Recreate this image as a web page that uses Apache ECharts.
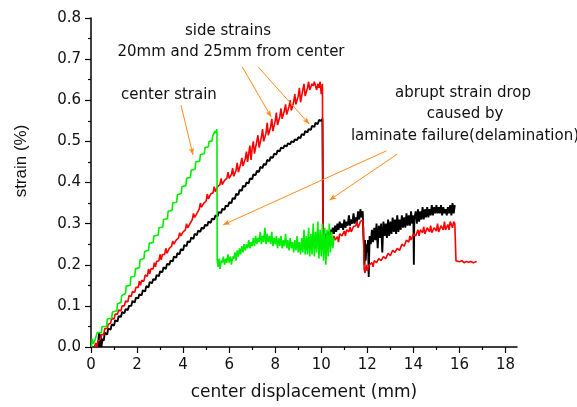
<!DOCTYPE html>
<html>
<head>
<meta charset="utf-8">
<script src="https://cdn.jsdelivr.net/npm/echarts@6/dist/echarts.min.js"></script>
<style>html,body{margin:0;padding:0;background:#fff}#c{width:577px;height:407px}</style>
</head>
<body>
<div id="c"></div>
<script>
// ---- data (x = center displacement in mm, y = strain in %) ----
const greenRise = [[0.02,0],[0.06,0.02],[0.1,0.008],[0.18,0.018],[0.25,0.02],[0.27,0.035],[0.45,0.035],[0.48,0.05],[0.68,0.05],[0.71,0.068],[0.9,0.07],[0.93,0.085],[1.12,0.088],[1.15,0.105],[1.3,0.108],[1.33,0.125],[1.5,0.13],[1.53,0.148],[1.7,0.15],[1.73,0.17],[1.9,0.172],[1.93,0.19],[2.1,0.193],[2.13,0.212],[2.3,0.215],[2.33,0.232],[2.5,0.235],[2.53,0.252],[2.7,0.254],[2.73,0.27],[2.92,0.272],[2.95,0.29],[3.12,0.292],[3.15,0.31],[3.32,0.312],[3.35,0.33],[3.52,0.332],[3.55,0.35],[3.72,0.352],[3.75,0.37],[3.92,0.373],[3.95,0.39],[4.12,0.392],[4.15,0.41],[4.32,0.413],[4.35,0.43],[4.52,0.432],[4.55,0.45],[4.72,0.452],[4.75,0.468],[4.92,0.47],[4.95,0.485],[5.1,0.487],[5.13,0.5],[5.25,0.5],[5.28,0.512],[5.36,0.512],[5.38,0.525],[5.44,0.52],[5.46,0.53],[5.47,0.52]];
const greenAfter = [[5.48,0.21],[5.52,0.195],[5.56,0.215],[5.6,0.19],[5.65,0.21],[5.7,0.205],[5.75,0.22],[5.8,0.2],[5.85,0.215],[5.9,0.205],[5.95,0.225],[6.0,0.205],[6.05,0.22],[6.1,0.2],[6.15,0.22],[6.2,0.215],[6.25,0.23],[6.3,0.21],[6.35,0.235],[6.4,0.22],[6.45,0.24],[6.5,0.225],[6.55,0.245],[6.6,0.23],[6.65,0.25],[6.7,0.235],[6.75,0.25],[6.8,0.24],[6.85,0.26],[6.9,0.24],[6.95,0.255],[7.0,0.245],[7.05,0.265],[7.1,0.245],[7.15,0.27],[7.2,0.25],[7.25,0.265],[7.3,0.255],[7.35,0.28],[7.4,0.25],[7.45,0.27],[7.5,0.255],[7.55,0.29],[7.6,0.25],[7.65,0.275],[7.7,0.255],[7.75,0.27],[7.8,0.25],[7.85,0.28],[7.9,0.245],[7.95,0.265],[8.0,0.25],[8.05,0.27],[8.1,0.24],[8.15,0.265],[8.2,0.245],[8.25,0.27],[8.3,0.24],[8.35,0.26],[8.4,0.245],[8.45,0.275],[8.5,0.24],[8.55,0.26],[8.6,0.235],[8.65,0.265],[8.7,0.24],[8.75,0.255],[8.8,0.23],[8.85,0.26],[8.9,0.235],[8.95,0.27],[9.0,0.23],[9.05,0.255],[9.1,0.225],[9.15,0.265],[9.2,0.23],[9.25,0.285],[9.3,0.225],[9.35,0.27],[9.4,0.225],[9.45,0.29],[9.5,0.22],[9.55,0.275],[9.6,0.225],[9.65,0.3],[9.7,0.22],[9.75,0.28],[9.8,0.23],[9.85,0.305],[9.9,0.215],[9.95,0.285],[10.0,0.22],[10.05,0.3],[10.1,0.21],[10.15,0.29],[10.2,0.2],[10.25,0.285],[10.3,0.22],[10.35,0.3],[10.4,0.23],[10.45,0.28],[10.5,0.24],[10.55,0.265]];
const redRise = [[0.15,0],[0.2,0.01],[0.25,0],[0.3,0.015],[0.4,0.018],[0.45,0.03],[0.55,0.03],[0.6,0.045],[0.7,0.045],[0.75,0.055],[0.85,0.058],[0.9,0.07],[1.0,0.068],[1.05,0.08],[1.15,0.08],[1.2,0.09],[1.3,0.088],[1.35,0.1],[1.45,0.1],[1.5,0.112],[1.6,0.11],[1.65,0.125],[1.75,0.123],[1.8,0.135],[1.9,0.133],[1.95,0.145],[2.05,0.145],[2.1,0.16],[2.15,0.15],[2.2,0.162],[2.3,0.16],[2.35,0.175],[2.45,0.172],[2.5,0.19],[2.55,0.178],[2.6,0.19],[2.7,0.19],[2.75,0.205],[2.8,0.195],[2.85,0.208],[2.95,0.21],[3.0,0.225],[3.05,0.212],[3.1,0.225],[3.2,0.225],[3.25,0.24],[3.3,0.228],[3.4,0.24],[3.5,0.245],[3.55,0.258],[3.6,0.25],[3.7,0.26],[3.8,0.265],[3.85,0.278],[3.9,0.27],[4.0,0.28],[4.1,0.285],[4.15,0.3],[4.2,0.29],[4.3,0.3],[4.4,0.31],[4.45,0.325],[4.5,0.315],[4.6,0.325],[4.7,0.335],[4.75,0.35],[4.8,0.34],[4.9,0.35],[5.0,0.355],[5.05,0.372],[5.1,0.36],[5.2,0.372],[5.3,0.375],[5.35,0.39],[5.4,0.378],[5.5,0.39],[5.6,0.395],[5.65,0.41],[5.7,0.395],[5.8,0.405],[5.9,0.41],[5.95,0.425],[6.0,0.41],[6.1,0.42],[6.15,0.435],[6.2,0.415],[6.3,0.43],[6.35,0.448],[6.4,0.425],[6.5,0.445],[6.55,0.46],[6.6,0.44],[6.7,0.458],[6.75,0.475],[6.8,0.45],[6.85,0.47],[6.9,0.49],[6.95,0.455],[7.0,0.485],[7.05,0.5],[7.1,0.47],[7.2,0.5],[7.25,0.515],[7.3,0.485],[7.4,0.51],[7.45,0.53],[7.5,0.5],[7.6,0.52],[7.65,0.545],[7.7,0.515],[7.8,0.535],[7.85,0.555],[7.9,0.525],[8.0,0.55],[8.05,0.57],[8.1,0.54],[8.2,0.56],[8.25,0.58],[8.3,0.555],[8.4,0.575],[8.45,0.59],[8.5,0.565],[8.6,0.585],[8.65,0.6],[8.7,0.575],[8.8,0.595],[8.85,0.615],[8.9,0.59],[9.0,0.61],[9.05,0.63],[9.1,0.595],[9.2,0.625],[9.25,0.64],[9.3,0.61],[9.4,0.63],[9.45,0.645],[9.5,0.625],[9.6,0.64],[9.65,0.635],[9.7,0.645],[9.8,0.625],[9.85,0.64],[9.9,0.63],[9.95,0.645],[10.0,0.615],[10.05,0.64],[10.07,0.64]];
const redAfter = [[10.08,0.26],[10.12,0.245],[10.2,0.25],[10.25,0.24],[10.3,0.255],[10.4,0.25],[10.45,0.265],[10.5,0.255],[10.55,0.27],[10.6,0.26],[10.7,0.268],[10.75,0.255],[10.8,0.275],[10.9,0.27],[11.0,0.282],[11.05,0.27],[11.1,0.285],[11.2,0.28],[11.25,0.292],[11.3,0.28],[11.4,0.293],[11.5,0.295],[11.55,0.305],[11.6,0.29],[11.7,0.305],[11.8,0.31],[11.83,0.29],[11.86,0.19],[11.9,0.18],[11.95,0.2],[12.0,0.185],[12.05,0.195],[12.1,0.2],[12.2,0.205],[12.25,0.195],[12.3,0.21],[12.4,0.205],[12.5,0.215],[12.6,0.21],[12.7,0.22],[12.8,0.215],[12.9,0.228],[13.0,0.222],[13.1,0.235],[13.2,0.23],[13.3,0.24],[13.4,0.235],[13.5,0.25],[13.6,0.245],[13.7,0.26],[13.8,0.255],[13.85,0.27],[13.9,0.26],[14.0,0.275],[14.1,0.27],[14.2,0.285],[14.25,0.27],[14.3,0.285],[14.4,0.278],[14.45,0.292],[14.5,0.275],[14.6,0.29],[14.7,0.28],[14.75,0.295],[14.8,0.278],[14.9,0.29],[15.0,0.282],[15.05,0.3],[15.1,0.28],[15.2,0.295],[15.3,0.285],[15.35,0.305],[15.4,0.285],[15.5,0.298],[15.55,0.285],[15.6,0.305],[15.7,0.29],[15.75,0.305],[15.8,0.3],[15.83,0.3],[15.85,0.21],[16.0,0.207],[16.1,0.21],[16.2,0.205],[16.3,0.208],[16.4,0.206],[16.5,0.208],[16.6,0.205],[16.75,0.208]];
const blackRise = [[0.3,0],[0.35,0.035],[0.38,0],[0.42,0.03],[0.45,0],[0.5,0.02],[0.55,0.015],[0.6,0.035],[0.7,0.03],[0.75,0.045],[0.85,0.042],[0.9,0.055],[1.0,0.052],[1.05,0.065],[1.15,0.062],[1.2,0.075],[1.3,0.073],[1.35,0.085],[1.45,0.082],[1.5,0.092],[1.6,0.09],[1.65,0.1],[1.75,0.1],[1.8,0.112],[1.9,0.108],[1.95,0.12],[2.05,0.118],[2.1,0.128],[2.2,0.126],[2.25,0.138],[2.35,0.135],[2.4,0.148],[2.5,0.145],[2.55,0.158],[2.65,0.155],[2.7,0.165],[2.8,0.163],[2.85,0.175],[2.95,0.172],[3.0,0.184],[3.1,0.182],[3.15,0.194],[3.25,0.19],[3.3,0.202],[3.4,0.2],[3.45,0.21],[3.55,0.208],[3.6,0.22],[3.7,0.217],[3.75,0.228],[3.85,0.226],[3.9,0.238],[4.0,0.235],[4.05,0.248],[4.15,0.245],[4.2,0.257],[4.3,0.255],[4.35,0.266],[4.45,0.263],[4.5,0.275],[4.6,0.272],[4.65,0.283],[4.75,0.28],[4.8,0.29],[4.9,0.288],[4.95,0.297],[5.05,0.295],[5.1,0.305],[5.2,0.302],[5.25,0.312],[5.35,0.31],[5.4,0.32],[5.5,0.318],[5.55,0.328],[5.65,0.326],[5.7,0.336],[5.8,0.334],[5.85,0.344],[5.95,0.342],[6.0,0.352],[6.1,0.35],[6.15,0.362],[6.25,0.36],[6.3,0.372],[6.4,0.37],[6.45,0.382],[6.55,0.38],[6.6,0.392],[6.7,0.39],[6.75,0.4],[6.85,0.398],[6.9,0.41],[7.0,0.408],[7.05,0.42],[7.15,0.418],[7.2,0.428],[7.3,0.426],[7.35,0.438],[7.45,0.435],[7.5,0.445],[7.6,0.443],[7.65,0.455],[7.75,0.452],[7.8,0.462],[7.9,0.46],[7.95,0.47],[8.05,0.468],[8.1,0.478],[8.2,0.476],[8.25,0.485],[8.35,0.483],[8.4,0.49],[8.5,0.488],[8.55,0.495],[8.65,0.493],[8.7,0.5],[8.8,0.498],[8.85,0.505],[8.95,0.503],[9.0,0.51],[9.1,0.508],[9.15,0.518],[9.25,0.515],[9.3,0.525],[9.4,0.522],[9.45,0.53],[9.55,0.528],[9.6,0.538],[9.7,0.535],[9.75,0.545],[9.85,0.542],[9.9,0.552],[10.0,0.55],[10.05,0.555],[10.07,0.555]];
const blackAfter = [[10.08,0.27],[10.15,0.26],[10.2,0.275],[10.25,0.265],[10.3,0.28],[10.35,0.27],[10.4,0.285],[10.45,0.275],[10.5,0.29],[10.55,0.275],[10.6,0.295],[10.65,0.28],[10.7,0.3],[10.75,0.285],[10.8,0.305],[10.85,0.29],[10.9,0.3],[10.95,0.285],[11.0,0.31],[11.05,0.29],[11.1,0.305],[11.15,0.295],[11.2,0.32],[11.25,0.295],[11.3,0.31],[11.35,0.3],[11.4,0.325],[11.45,0.3],[11.5,0.315],[11.55,0.305],[11.6,0.33],[11.65,0.31],[11.7,0.335],[11.75,0.315],[11.8,0.33],[11.83,0.27],[11.86,0.24],[11.88,0.2],[11.9,0.26],[11.93,0.21],[11.96,0.25],[12.0,0.23],[12.03,0.26],[12.06,0.17],[12.1,0.27],[12.15,0.25],[12.2,0.285],[12.25,0.255],[12.3,0.29],[12.35,0.26],[12.4,0.3],[12.45,0.24],[12.5,0.295],[12.55,0.265],[12.6,0.3],[12.65,0.23],[12.7,0.305],[12.75,0.27],[12.8,0.3],[12.85,0.265],[12.9,0.31],[12.95,0.27],[13.0,0.305],[13.05,0.275],[13.1,0.315],[13.15,0.28],[13.2,0.31],[13.25,0.275],[13.3,0.32],[13.35,0.28],[13.4,0.31],[13.45,0.285],[13.5,0.32],[13.55,0.29],[13.6,0.315],[13.65,0.29],[13.7,0.325],[13.75,0.295],[13.8,0.32],[13.85,0.295],[13.9,0.33],[13.95,0.3],[14.0,0.32],[14.02,0.2],[14.04,0.31],[14.1,0.33],[14.15,0.3],[14.2,0.335],[14.25,0.305],[14.3,0.33],[14.35,0.31],[14.4,0.34],[14.45,0.31],[14.5,0.335],[14.55,0.315],[14.6,0.34],[14.65,0.315],[14.7,0.335],[14.75,0.32],[14.8,0.345],[14.85,0.32],[14.9,0.34],[14.95,0.325],[15.0,0.345],[15.05,0.325],[15.1,0.34],[15.15,0.325],[15.2,0.345],[15.25,0.32],[15.3,0.34],[15.35,0.325],[15.4,0.335],[15.45,0.32],[15.5,0.34],[15.55,0.325],[15.6,0.345],[15.65,0.32],[15.7,0.35],[15.75,0.325],[15.8,0.345]];
const xMajorTicks = [0,2,4,6,8,10,12,14,16,18];
const xMinorTicks = [1,3,5,7,9,11,13,15,17];
// annotation arrows: [from, to] in data coordinates
const arrows = [
  [[3.91,0.588],[4.43,0.467]],
  [[6.57,0.681],[7.83,0.559]],
  [[7.26,0.681],[9.48,0.542]],
  [[12.83,0.477],[5.74,0.297]],
  [[13.30,0.469],[10.35,0.357]]
];
const notes = [
  {text:'side strains', x:228, y:31},
  {text:'20mm and 25mm from center', x:231, y:52},
  {text:'center strain', x:169, y:95},
  {text:'abrupt strain drop', x:463, y:93},
  {text:'caused by', x:465, y:114},
  {text:'laminate failure(delamination)', x:465, y:136}
];

const chart = echarts.init(document.getElementById('c'), null, {renderer:'canvas'});
const font = '"DejaVu Sans", sans-serif';
const orange = '#ff8c1a';
chart.setOption({
  animation:false,
  backgroundColor:'#fff',
  grid:{left:91, top:18, right:60, bottom:60, containLabel:false},
  xAxis:[{
    type:'value', min:0, max:18.5, interval:2, position:'bottom',
    name:'center displacement (mm)', nameLocation:'middle', nameGap:37,
    nameTextStyle:{fontFamily:font, fontSize:17, color:'#111'},
    axisLine:{show:true, onZero:false, lineStyle:{color:'#000', width:1.5}},
    axisTick:{show:true, length:6, customValues:xMajorTicks, lineStyle:{color:'#000', width:1.2}},
    axisLabel:{customValues:xMajorTicks, margin:11, fontFamily:font, fontSize:15, color:'#111'},
    splitLine:{show:false}
  },{
    type:'value', min:0, max:18.5, position:'bottom',
    axisLine:{show:false},
    axisTick:{show:true, length:3, customValues:xMinorTicks, lineStyle:{color:'#000', width:1.2}},
    axisLabel:{show:false},
    splitLine:{show:false}
  }],
  yAxis:{
    type:'value', min:0, max:0.8, interval:0.1,
    axisLine:{show:true, onZero:false, lineStyle:{color:'#000', width:1.5}},
    axisTick:{show:true, length:6, lineStyle:{color:'#000', width:1.2}},
    minorTick:{show:true, splitNumber:2, length:3, lineStyle:{color:'#000', width:1.2}},
    axisLabel:{margin:10, fontFamily:font, fontSize:15, color:'#111', formatter:v=>v.toFixed(1)},
    splitLine:{show:false}, minorSplitLine:{show:false}
  },
  graphic: notes.map(n=>({type:'text', x:n.x, y:n.y, silent:true,
      style:{text:n.text, fill:'#111', font:'15px '+font, textAlign:'center', textVerticalAlign:'middle'}}))
    .concat([{type:'text', x:21, y:161, rotation:Math.PI/2, silent:true,
      style:{text:'strain (%)', fill:'#111', font:'17px "Liberation Sans", Arial, sans-serif', textAlign:'center', textVerticalAlign:'middle'}}]),
  series:[
    {type:'line', name:'black', xAxisIndex:0, data:blackRise.concat(blackAfter), showSymbol:false, symbol:'none',
     lineStyle:{color:'#000', width:1.9}, z:2},
    {type:'line', name:'red', xAxisIndex:0, data:redRise.concat(redAfter), showSymbol:false, symbol:'none',
     lineStyle:{color:'#ff0000', width:1.6}, z:3},
    {type:'line', name:'green', xAxisIndex:0, data:greenRise.concat(greenAfter), showSymbol:false, symbol:'none',
     lineStyle:{color:'#00ee00', width:1.6}, z:4,
     markLine:{silent:true, symbol:['none','arrow'], symbolSize:[4,7], animation:false,
       label:{show:false}, lineStyle:{color:orange, width:1, type:'solid'},
       emphasis:{disabled:true},
       data:arrows.map(a=>[{coord:a[0]},{coord:a[1]}])}}
  ]
});
</script>
</body>
</html>
